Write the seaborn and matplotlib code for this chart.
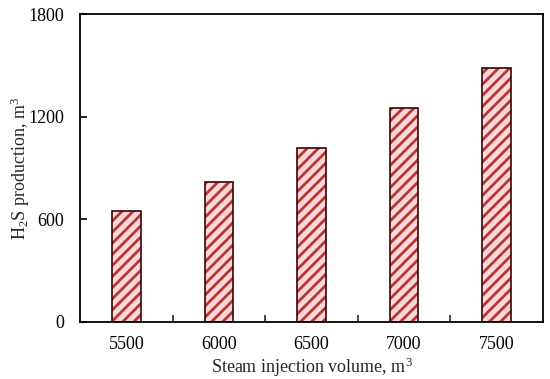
import matplotlib
matplotlib.use("Agg")
import matplotlib.pyplot as plt
import seaborn as sns
import pandas as pd

# data
volumes = ["5500", "6000", "6500", "7000", "7500"]
h2s = [650, 820, 1015, 1250, 1485]
y_ticks = [0, 600, 1200, 1800]

df = pd.DataFrame({"Volume": volumes, "H2S": h2s})

sns.set_style("white")
plt.rcParams["font.family"] = ["Liberation Serif", "DejaVu Serif"]
plt.rcParams["mathtext.fontset"] = "custom"
plt.rcParams["mathtext.rm"] = "Liberation Serif"
plt.rcParams["mathtext.it"] = "Liberation Serif:italic"
plt.rcParams["hatch.linewidth"] = 2.0

fig, ax = plt.subplots(figsize=(5.5, 3.79), dpi=100)
fig.subplots_adjust(left=0.146, right=0.987, top=0.963, bottom=0.151)

# hatched fill (hatch takes the edge colour), then a plain outline on top
sns.barplot(data=df, x="Volume", y="H2S", color="#ffd6dc", width=0.31,
            edgecolor="#b23a30", linewidth=0, hatch="///", ax=ax,
            saturation=1)
sns.barplot(data=df, x="Volume", y="H2S", fill=False, width=0.31,
            edgecolor="#3a0505", linewidth=1.2, ax=ax)

ax.set_xlim(-0.5, 4.5)
ax.set_ylim(0, 1800)
ax.set_yticks(y_ticks)
ax.set_xticks([0.5, 1.5, 2.5, 3.5], minor=True)

for s in ax.spines.values():
    s.set_color("black")
    s.set_linewidth(1.3)

ax.tick_params(axis="y", direction="in", length=5, width=1.2, pad=11.5,
               labelsize=13, left=True, colors="black")
ax.tick_params(axis="x", which="major", length=0, pad=10, labelsize=13,
               colors="black")
ax.tick_params(axis="x", which="minor", direction="in", length=5, width=1.2,
               bottom=True)

ax.set_xlabel("Steam injection volume, m$^3$", fontsize=13, labelpad=2)
ax.set_ylabel("H$_2$S production, m$^3$", fontsize=13)
ax.yaxis.set_label_coords(-0.105, 0.5)

plt.savefig("out.png", dpi=100)
